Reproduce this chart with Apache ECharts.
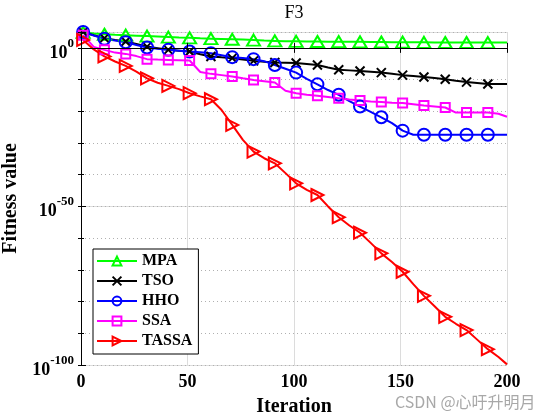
<!DOCTYPE html>
<html><head><meta charset="utf-8">
<script src="https://cdn.jsdelivr.net/npm/echarts@6/dist/echarts.min.js"></script>
<style>html,body{margin:0;padding:0;background:#fff}#c{width:560px;height:420px}</style>
</head><body><div id="c"></div>
<script>
// iteration sample points
const iterations = [1,6,11,16,21,26,31,36,41,46,51,56,61,66,71,76,81,86,91,96,101,106,111,116,121,126,131,136,141,146,151,156,161,166,171,176,181,186,191,196,200];
// series values as log10(fitness)
const mpa = [4.9,4.5,4.3,4.1,4.0,3.85,3.7,3.55,3.4,3.25,3.15,3.0,2.9,2.8,2.7,2.6,2.45,2.3,2.2,2.1,2.05,2.0,2.0,1.95,1.95,1.9,1.9,1.85,1.85,1.8,1.8,1.75,1.75,1.7,1.7,1.7,1.7,1.65,1.65,1.65,1.65];
const tso = [4.95,4.0,3.06,2.5,2.0,1.2,0.4,-0.1,-0.63,-0.9,-1.17,-2.0,-2.74,-3.0,-3.25,-3.7,-4.1,-4.4,-4.6,-4.7,-4.8,-5.1,-5.4,-6.2,-6.9,-7.1,-7.3,-7.5,-7.8,-8.2,-8.6,-8.9,-9.2,-9.5,-9.9,-10.4,-10.8,-11.1,-11.4,-11.4,-11.4];
const hho = [5.0,3.9,2.84,2.3,1.8,0.9,0.1,-0.3,-0.63,-0.9,-1.17,-1.4,-1.67,-2.3,-2.93,-3.2,-3.56,-4.2,-5.4,-6.6,-7.8,-9.8,-11.5,-13.3,-14.8,-16.8,-18.5,-20.2,-21.9,-23.75,-26.1,-27.4,-27.4,-27.4,-27.4,-27.4,-27.4,-27.4,-27.4,-27.4,-27.4];
const ssa = [4.0,0.3,-0.63,-1.5,-1.9,-2.6,-3.56,-3.7,-3.8,-3.9,-4.0,-7.6,-8.2,-8.6,-9.05,-9.6,-10.1,-10.5,-10.9,-13.5,-14.3,-14.8,-15.1,-15.5,-15.9,-16.3,-16.6,-16.9,-17.1,-17.3,-17.4,-17.8,-18.2,-18.5,-18.8,-20.4,-20.4,-20.4,-20.4,-20.8,-21.7];
const tassa = [2.5,-0.5,-2.7,-4.3,-5.7,-7.5,-9.6,-11.0,-12.0,-13.0,-14.3,-15.3,-16.2,-19.6,-24.3,-29.0,-32.7,-34.8,-36.4,-39.5,-42.7,-44.8,-46.4,-50.0,-53.4,-56.0,-58.3,-61.5,-64.8,-67.5,-70.6,-74.5,-78.2,-81.5,-84.8,-87.0,-89.0,-92.0,-95.0,-97.5,-99.8];
const seriesNames = ['MPA','TSO','HHO','SSA','TASSA'];
const xTicks = [0,50,100,150,200];
const yTickExponents = [0,-50,-100];

const SERIF = 'Liberation Serif';
const colors = ['#00ff00','#000000','#0000ff','#ff00ff','#ff0000'];
const symbols = ['triangle','path://M0,0L10,10M0,10L10,0','circle','rect','path://M0,0L10,5L0,10Z'];
const sizes = [[13,11],9,12,9,[12,12]];
const allVals = [mpa,tso,hho,ssa,tassa];

function mkData(vals){
  return iterations.map((it,i)=> it%10===1 ? [it, vals[i]] : {value:[it, vals[i]], symbol:'none'});
}
const series = seriesNames.map((n,k)=>({
  name:n, type:'line', data:mkData(allVals[k]), xAxisIndex:0, yAxisIndex:0,
  symbol:symbols[k], symbolSize:sizes[k], showAllSymbol:true, clip:true,
  lineStyle:{color:colors[k], width:2},
  itemStyle:{color:'rgba(255,255,255,0)', borderColor:colors[k], borderWidth:2},
  emphasis:{disabled:true}, animation:false
}));

const chart = echarts.init(document.getElementById('c'), null, {renderer:'canvas'});
const hidden = {axisLine:{show:false}, axisTick:{show:false}, axisLabel:{show:false}};
chart.setOption({
  animation:false,
  backgroundColor:'#fff',
  title:{text:'F3', left:294, top:4, textAlign:'center', padding:0,
    textStyle:{fontFamily:SERIF, fontWeight:'normal', fontSize:18, color:'#000'}},
  grid:{left:81, right:53, top:32, bottom:55, containLabel:false, outerBoundsMode:'none'},
  legend:{data:seriesNames, orient:'vertical', left:93, top:249,
    backgroundColor:'#fff', borderColor:'#000', borderWidth:1, padding:[3,6,4,3],
    itemWidth:40, itemHeight:11, itemGap:2,
    textStyle:{fontFamily:SERIF, fontWeight:'bold', fontSize:16, lineHeight:18, color:'#000'}},
  xAxis:[
    {type:'value', position:'bottom', min:0, max:200, interval:50, z:5,
     axisLine:{lineStyle:{color:'#000', width:1}},
     axisTick:{inside:true, length:5, lineStyle:{color:'#000'}},
     axisLabel:{margin:8, fontFamily:SERIF, fontWeight:'bold', fontSize:18, color:'#000',
       formatter:v=> xTicks.includes(v) ? String(v) : ''},
     splitLine:{show:false},
     name:'Iteration', nameLocation:'middle', nameGap:32,
     nameTextStyle:{fontFamily:SERIF, fontWeight:'bold', fontSize:20, color:'#000'}},
    {type:'value', position:'top', min:0, max:200, interval:50, z:5,
     axisLine:{lineStyle:{color:'#000', width:1}},
     axisTick:{inside:true, length:5, lineStyle:{color:'#000'}},
     axisLabel:{show:false}, splitLine:{show:false}},
    Object.assign({type:'value', min:0, max:200, interval:50, z:0,
     splitLine:{show:true, lineStyle:{color:'#dcdcdc', width:1}}}, hidden)
  ],
  yAxis:[
    {type:'value', position:'left', min:-100, max:5, interval:50, z:5,
     axisLine:{lineStyle:{color:'#000', width:1}},
     axisTick:{inside:true, length:5, lineStyle:{color:'#000'}},
     minorTick:{show:true, splitNumber:5, length:3, lineStyle:{color:'#000'}},
     axisLabel:{margin:7, showMinLabel:true, color:'#000',
       formatter:v=> yTickExponents.includes(v) ? '{b|10}{s|'+v+'}' : '',
       rich:{b:{fontFamily:SERIF, fontWeight:'bold', fontSize:18, color:'#000', padding:[10,0,0,0]},
             s:{fontFamily:SERIF, fontWeight:'bold', fontSize:13, color:'#000', padding:[0,0,9,0]}}},
     splitLine:{show:false},
     name:'Fitness value', nameLocation:'middle', nameGap:54,
     nameTextStyle:{fontFamily:SERIF, fontWeight:'bold', fontSize:20, color:'#000'}},
    {type:'value', position:'right', min:-100, max:5, interval:10, z:5,
     axisLine:{lineStyle:{color:'#000', width:1}},
     axisTick:{inside:true, length:3, lineStyle:{color:'#000'}},
     axisLabel:{show:false}, splitLine:{show:false}},
    Object.assign({type:'value', min:-100, max:5, interval:50, z:0,
     splitLine:{show:true, lineStyle:{color:'#dcdcdc', width:1}}}, hidden),
    Object.assign({type:'value', min:-100, max:5, interval:10, z:0,
     splitLine:{show:true, lineStyle:{color:'#b0b0b0', width:1, type:[1,3]}}}, hidden)
  ],
  graphic:[{type:'text', left:395, top:394, z:10,
    style:{text:'CSDN @心吁升明月', fontFamily:'Noto Sans CJK SC', fontSize:16, fill:'#a8a8a8'}}],
  series:series
});
</script>
</body></html>
